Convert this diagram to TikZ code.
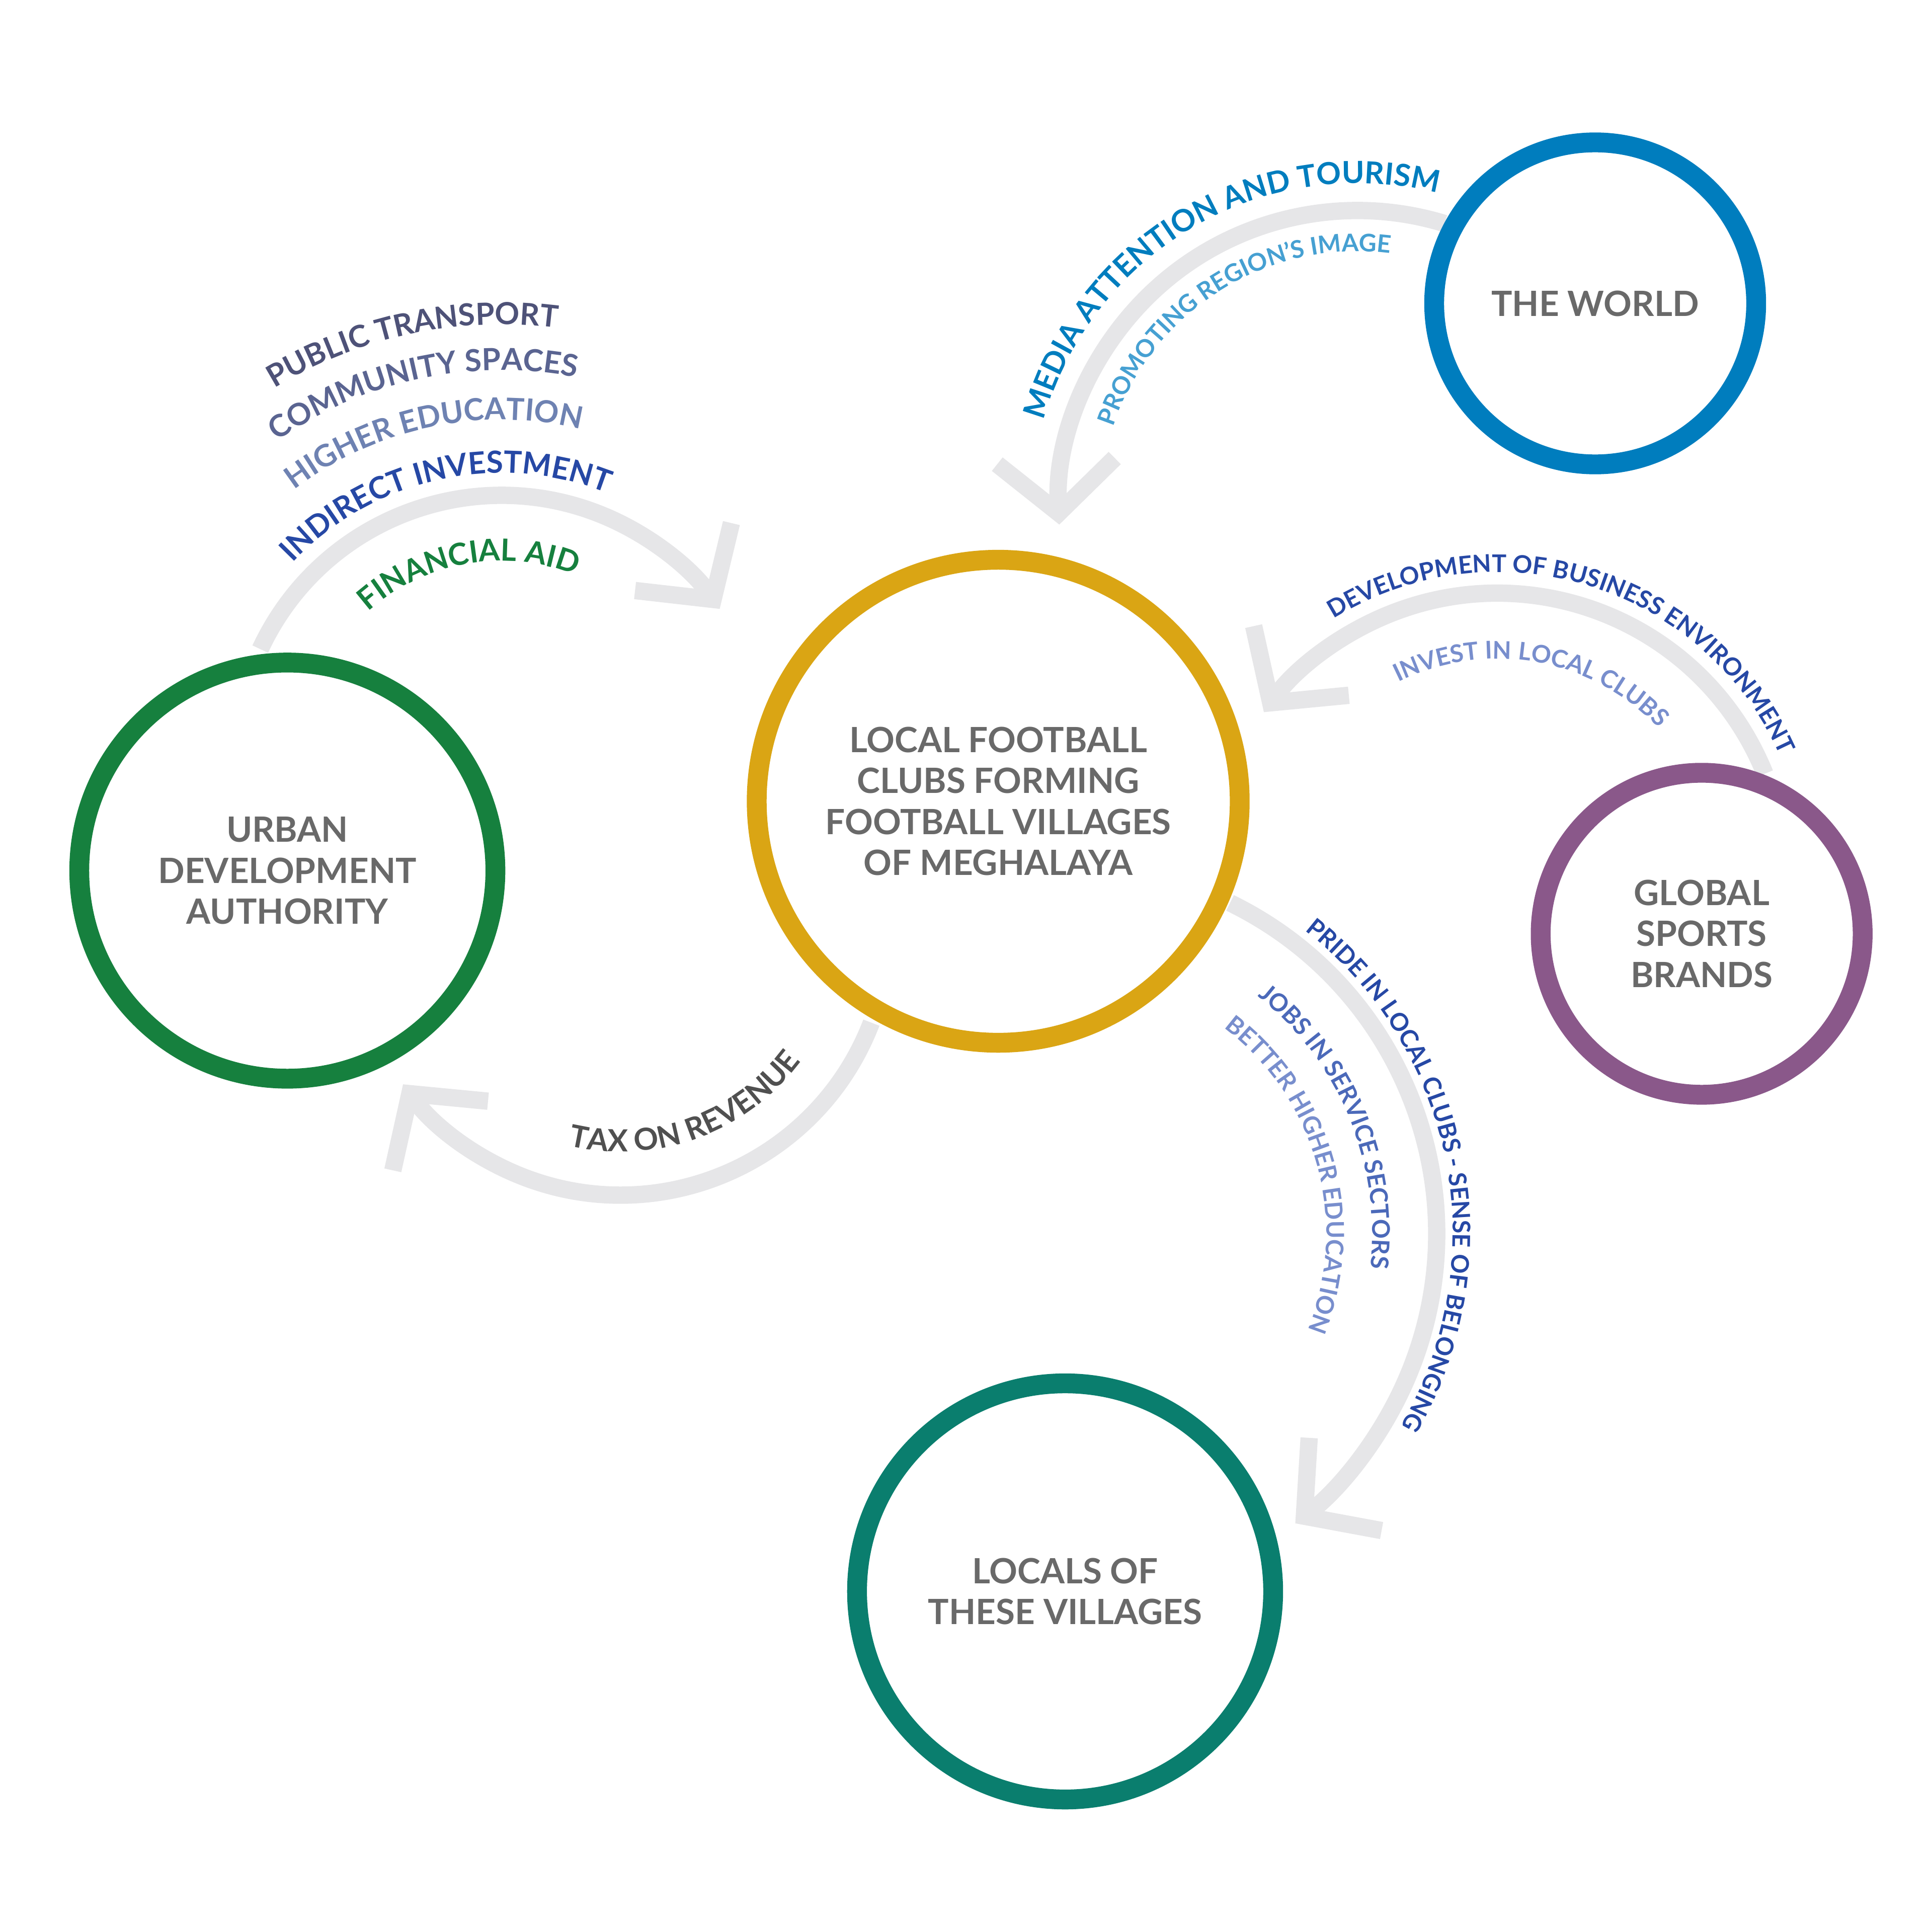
\documentclass[tikz,border=0pt]{standalone}
\usepackage{fontspec}
\newfontfamily\lato{Lato}
\usetikzlibrary{arrows.meta,decorations.text}
\definecolor{clubgold}{RGB}{218,165,20}
\definecolor{udagreen}{RGB}{22,128,62}
\definecolor{worldblue}{RGB}{0,125,190}
\definecolor{brandpurple}{RGB}{138,88,138}
\definecolor{localteal}{RGB}{10,126,110}
\definecolor{nodegray}{RGB}{105,105,105}
\definecolor{flowgray}{RGB}{230,230,232}
\definecolor{slate}{RGB}{78,82,120}
\definecolor{slatemid}{RGB}{90,100,145}
\definecolor{slatelight}{RGB}{110,130,178}
\definecolor{deepblue}{RGB}{38,72,165}
\definecolor{midblue}{RGB}{75,105,185}
\definecolor{paleblue}{RGB}{120,142,205}
\definecolor{skyblue}{RGB}{70,160,210}
\definecolor{taxgray}{RGB}{80,80,80}
\newcommand\arcfont{\lato\bfseries\fontsize{7}{8}\selectfont}
\newcommand\arcsmall{\lato\bfseries\fontsize{5.6}{7}\selectfont}

\begin{document}
\begin{tikzpicture}[
  actor/.style={circle,draw,line width=0.16cm,fill=white,align=center,
                text=nodegray,font=\lato\bfseries\fontsize{8}{9.4}\selectfont},
  flow/.style={draw=flowgray,line width=0.14cm,
               -{Straight Barb[length=0.42cm,width=0.95cm]}},
  lbl/.style={decorate,decoration={text along path,text align=center,text={#1}}}]
  \useasboundingbox (0,0) rectangle (15.6,15.6);
  % flows
  \coordinate (cU) at (4.05,9.45);
  \coordinate (cT) at (5.01,8.12);
  \coordinate (cW) at (10.96,11.49);
  \coordinate (cG) at (12.09,8.48);
  \coordinate (cL) at (8.63,5.64);
  \draw[flow] (cU) ++(155:2.15) arc (155:35:2.15);
  \draw[flow] (cT) ++(-21:2.17) arc (-21:-144:2.17);
  \draw[flow] (cW) ++(73:2.41) arc (73:183:2.41);
  \draw[flow] (cG) ++(22:2.33) arc (22:144:2.33);
  \draw[flow] (cL) ++(64:2.97) arc (64:-52:2.97);
  % actors
  \node[actor,draw=clubgold,minimum size=3.9cm]    (clubs)  at (8.06,9.13) {LOCAL FOOTBALL\\CLUBS FORMING\\FOOTBALL VILLAGES\\OF MEGHALAYA};
  \node[actor,draw=udagreen,minimum size=3.36cm]   (uda)    at (2.32,8.57) {URBAN\\DEVELOPMENT\\AUTHORITY};
  \node[actor,draw=worldblue,minimum size=2.6cm]   (world)  at (12.88,13.15) {THE WORLD};
  \node[actor,draw=brandpurple,minimum size=2.6cm] (brands) at (13.74,8.06) {GLOBAL\\SPORTS\\BRANDS};
  \node[actor,draw=localteal,minimum size=3.36cm]  (locals) at (8.60,2.75) {LOCALS OF\\THESE VILLAGES};
  % labels
  \path[lbl={|\arcfont\color{udagreen}|FINANCIAL AID}] (cU) ++(160:1.62) arc (160:40:1.62);
  \path[lbl={|\arcfont\color{deepblue}|INDIRECT INVESTMENT}] (cU) ++(165:2.33) arc (165:40:2.33);
  \path[lbl={|\arcfont\color{slatelight}|HIGHER EDUCATION}] (cU) ++(160:2.76) arc (160:44:2.76);
  \path[lbl={|\arcfont\color{slatemid}|COMMUNITY SPACES}] (cU) ++(158:3.16) arc (158:46:3.16);
  \path[lbl={|\arcfont\color{slate}|PUBLIC TRANSPORT}] (cU) ++(155:3.53) arc (155:49:3.53);
  \path[lbl={|\arcfont\color{taxgray}|TAX ON REVENUE}] (cT) ++(-145:1.82) arc (-145:5:1.82);
  \path[lbl={|\arcfont\color{worldblue}|MEDIA ATTENTION AND TOURISM}] (cW) ++(178:2.63) arc (178:62:2.63);
  \path[lbl={|\arcsmall\color{skyblue}|PROMOTING REGION’S IMAGE}] (cW) ++(175:2.08) arc (175:69:2.08);
  \path[lbl={|\arcsmall\color{deepblue}|DEVELOPMENT OF BUSINESS ENVIRONMENT}] (cG) ++(150:2.5) arc (150:-4:2.5);
  \path[lbl={|\arcsmall\color{paleblue}|INVEST IN LOCAL CLUBS}] (cG) ++(150:1.8) arc (150:10:1.8);
  \path[lbl={|\arcsmall\color{deepblue}|PRIDE IN LOCAL CLUBS - SENSE OF BELONGING}] (cL) ++(72:3.1) arc (72:-50:3.1);
  \path[lbl={|\arcsmall\color{midblue}|JOBS IN SERVICE SECTORS}] (cL) ++(78:2.45) arc (78:-33:2.45);
  \path[lbl={|\arcsmall\color{paleblue}|BETTER HIGHER EDUCATION}] (cL) ++(72:2.08) arc (72:-41:2.08);
\end{tikzpicture}
\end{document}
